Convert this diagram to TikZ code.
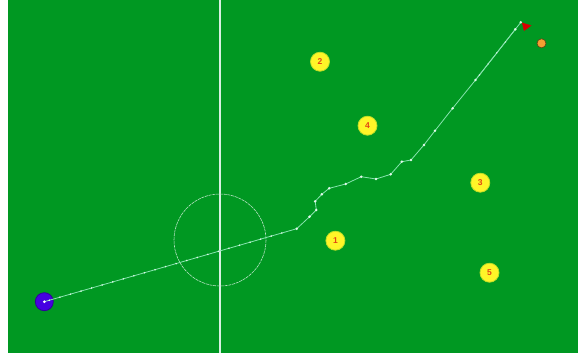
\documentclass[tikz,border=0pt]{standalone}
\usepackage{fontspec}
\setmainfont{Liberation Sans}
\usetikzlibrary{decorations.markings}
\definecolor{pitch}{RGB}{0,152,34}
\definecolor{trail}{RGB}{135,228,175}
\definecolor{chalk}{RGB}{215,240,225}
\definecolor{shirt}{RGB}{255,245,40}
\definecolor{numred}{RGB}{225,70,20}
\definecolor{ballblue}{RGB}{70,0,225}
\definecolor{orangeball}{RGB}{245,160,50}
\tikzset{
  player/.style={circle,fill=shirt,draw=shirt!75!pitch,line width=0.8pt,minimum size=19pt,inner sep=0pt,
    font=\fontsize{8.5}{8.5}\selectfont\bfseries,text=numred},
  wp/.style={circle,fill=white!75!trail,inner sep=0pt,minimum size=2.8pt},
  trailline/.style={draw=trail,line width=0.8pt},
}
\begin{document}
\begin{tikzpicture}[x=1pt,y=-1pt]
\useasboundingbox (0,0) rectangle (578,354);
\fill[white] (0,0) rectangle (578,354);
\fill[pitch] (8,0) rectangle (578,353);
% markings
\draw[chalk,line width=1.2pt] (220,0) -- (220,353);
\draw[chalk!85!pitch,line width=0.6pt,dash pattern=on 3pt off 0.8pt] (220,240) circle[radius=46];
% players
\node[player] (p2) at (320,61.7) {2};
\node[player] (p4) at (367.5,125.7) {4};
\node[player] (p3) at (480.3,182.7) {3};
\node[player] (p1) at (335.4,240.7) {1};
\node[player] (p5) at (489.5,272.7) {5};
% orange ball
\node[circle,fill=orangeball,draw=black!60!orangeball,line width=0.6pt,minimum size=9pt,inner sep=0pt] (ob) at (541.5,43.3) {};
% trail waypoints
\coordinate (w0) at (44.3,301.7);
\coordinate (w1) at (296.7,228.7);
\coordinate (w2) at (309.6,216.7);
\coordinate (w3) at (316.3,210);
\coordinate (w4) at (315.2,201.3);
\coordinate (w5) at (321.8,194.3);
\coordinate (w6) at (329.2,188.3);
\coordinate (w7) at (345.7,184);
\coordinate (w8) at (361.2,176.7);
\coordinate (w9) at (376,179);
\coordinate (w10) at (390.7,174.3);
\coordinate (w11) at (401.8,161.7);
\coordinate (w12) at (411,160);
\coordinate (w13) at (423.9,145);
\coordinate (w14) at (435,130.7);
\coordinate (w15) at (452.6,108.3);
\coordinate (w16) at (475.5,80);
\coordinate (w17) at (515.3,29.3);
\coordinate (w18) at (520.8,22.3);
% blue ball
\node[circle,fill=ballblue,draw=ballblue!70!black,line width=0.8pt,minimum size=18pt,inner sep=0pt] (bb) at (w0) {};
\draw[trailline,postaction={decorate,decoration={markings,mark=between positions 0.02 and 0.98 step 11pt with {\fill[white!70!trail] (0,0) circle[radius=0.9pt];}}}] (w0) -- (w1);
\draw[trailline] (w1) -- (w2) -- (w3) -- (w4) -- (w5) -- (w6) -- (w7) -- (w8) -- (w9) -- (w10) -- (w11) -- (w12) -- (w13) -- (w14) -- (w15) -- (w16) -- (w17) -- (w18);
\draw[trailline,postaction={decorate,decoration={markings,mark=between positions 0.1 and 0.95 step 14pt with {\fill[white!70!trail] (0,0) circle[radius=0.8pt];}}}] (w16) -- (w17);
\foreach \i in {1,...,18} \node[wp] at (w\i) {};
\node[circle,fill=white,inner sep=0pt,minimum size=3pt] at (w0) {};
% red marker
\fill[red!85!black] (521.8,22.5) -- (531.5,25.5) -- (524,31) -- cycle;
\end{tikzpicture}
\end{document}
